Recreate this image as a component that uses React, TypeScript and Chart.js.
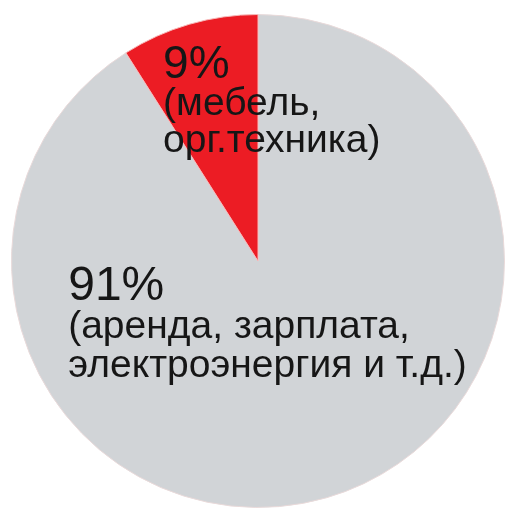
import React, { useEffect, useRef } from "react";
import { Chart, registerables } from "chart.js";

Chart.register(...registerables);

const categories = ["аренда, зарплата, электроэнергия и т.д.", "мебель, орг.техника"];
const values = [91, 9];
const colors = ["#d1d4d7", "#ec1c24"];
const labelLines = [
  ["91%", "(аренда, зарплата,", "электроэнергия и т.д.)"],
  ["9%", "(мебель,", "орг.техника)"],
];

const labelPlugin = {
  id: "sliceText",
  afterDatasetsDraw(chart: any) {
    const meta = chart.getDatasetMeta(0);
    const arc = meta.data[0];
    if (!arc) return;
    const cx = arc.x;
    const cy = arc.y;
    const r = arc.outerRadius;
    const ctx = chart.ctx;
    ctx.save();
    ctx.fillStyle = "#161616";
    ctx.textAlign = "left";
    ctx.textBaseline = "alphabetic";
    const fam = '"Liberation Sans", Arial, sans-serif';
    // big slice label
    const bx = cx - r * 0.77;
    const by = cy + r * 0.158;
    const big = labelLines[0];
    ctx.font = `48px ${fam}`;
    ctx.fillText(big[0], bx, by);
    ctx.font = `39px ${fam}`;
    ctx.fillText(big[1], bx, by + 38);
    ctx.fillText(big[2], bx, by + 77);
    // small slice label
    const sx = cx - r * 0.385;
    const sy = cy - r * 0.741;
    const small = labelLines[1];
    ctx.font = `46px ${fam}`;
    ctx.fillText(small[0], sx, sy);
    ctx.font = `39px ${fam}`;
    ctx.fillText(small[1], sx, sy + 37);
    ctx.fillText(small[2], sx, sy + 74);
    ctx.restore();
  },
};

export default function App() {
  const ref = useRef<HTMLCanvasElement | null>(null);
  useEffect(() => {
    if (!ref.current) return;
    const chart = new Chart(ref.current, {
      type: "pie",
      data: {
        labels: categories,
        datasets: [
          {
            data: values,
            backgroundColor: colors,
            borderColor: ["#e9dada", "#f6b9b9"],
            borderWidth: 1,
          },
        ],
      },
      options: {
        responsive: false,
        animation: false,
        layout: { padding: { left: 11, top: 14, right: 1, bottom: 1 } },
        plugins: {
          legend: { display: false },
          tooltip: { enabled: false },
          title: { display: false },
        },
      },
      plugins: [labelPlugin],
    });
    return () => chart.destroy();
  }, []);
  return (
    <div style={{ position: "absolute", left: 0, top: 0, width: 506, height: 509, background: "#ffffff" }}>
      <canvas ref={ref} width={506} height={509} style={{ display: "block" }} />
    </div>
  );
}
